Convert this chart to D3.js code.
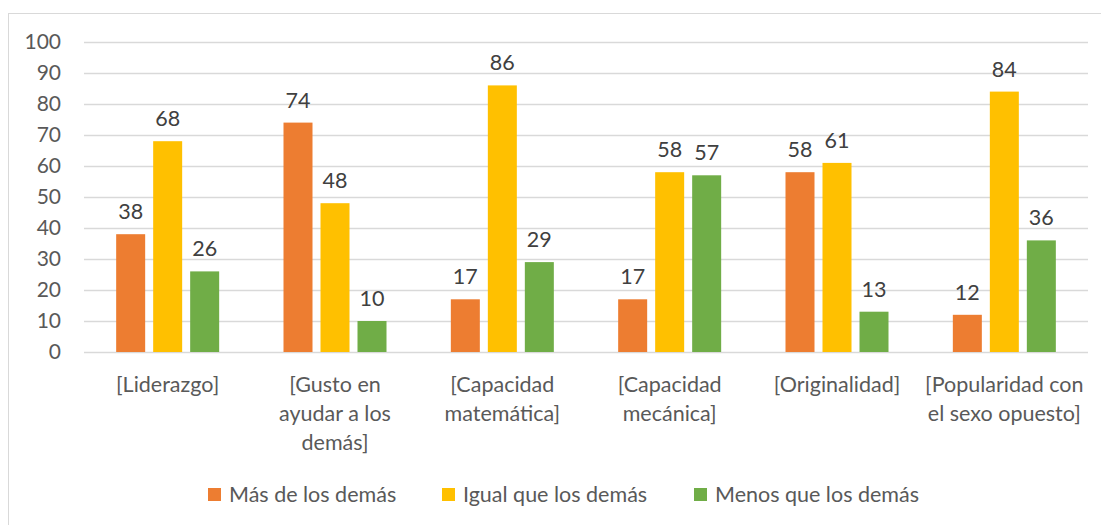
<!DOCTYPE html>
<html>
<head>
<meta charset="utf-8">
<script src="https://cdn.jsdelivr.net/npm/d3@7"></script>
<style>
  body { margin: 0; background: #fff; }
  text { font-family: Lato, "Open Sans", sans-serif; }
</style>
</head>
<body>
<svg id="chart"></svg>
<script>
// data
var categories = ["[Liderazgo]", "[Gusto en\nayudar a los\ndemás]", "[Capacidad\nmatemática]",
                  "[Capacidad\nmecánica]", "[Originalidad]", "[Popularidad con\nel sexo opuesto]"];
var seriesNames = ["Más de los demás", "Igual que los demás", "Menos que los demás"];
var mas   = [38, 74, 17, 17, 58, 12];
var igual = [68, 48, 86, 58, 61, 84];
var menos = [26, 10, 29, 57, 13, 36];
var yTicks = [0, 10, 20, 30, 40, 50, 60, 70, 80, 90, 100];
var colors = ["#ed7d31", "#ffc000", "#70ad47"];

var values = [mas, igual, menos];

const width = 1101;
const height = 525;
const plotL = 84, plotR = 1088, plotT = 42, plotB = 352;
const fontSize = '21.5px';

var svg = d3.select('#chart')
  .attr('width', width)
  .attr('height', height);

// chart frame (runs off the right and bottom edges)
svg.append('rect')
  .attr('x', 8.5).attr('y', 13.5)
  .attr('width', 1100).attr('height', 520)
  .attr('fill', 'none')
  .attr('stroke', '#d9d9d9')
  .attr('stroke-width', 1);

var y = d3.scaleLinear()
  .domain([0, 100])
  .range([plotB, plotT]);

var x0 = d3.scaleBand()
  .domain(categories)
  .range([plotL, plotR]);

var groupW = 103;
var off = (x0.bandwidth() - groupW) / 2;
var x1 = d3.scaleBand()
  .domain(d3.range(seriesNames.length))
  .range([off, off + groupW])
  .paddingInner(8 / 37);

// gridlines + y labels
var yAxis = svg.append('g')
  .attr('transform', `translate(${plotL},0)`)
  .call(d3.axisLeft(y).tickValues(yTicks).tickSize(-(plotR - plotL)).tickPadding(23));
yAxis.select('.domain').remove();
yAxis.selectAll('line').attr('stroke', '#d9d9d9').attr('stroke-width', 1.5);
yAxis.selectAll('text')
  .attr('fill', '#595959')
  .style('font-size', '21px')
  .style('font-family', 'Lato, "Open Sans", sans-serif');

// bars
var groups = svg.selectAll('g.cat')
  .data(categories)
  .enter().append('g')
    .attr('class', 'cat')
    .attr('transform', d => `translate(${x0(d)},0)`);

var bars = groups.selectAll('g.bar')
  .data((d, i) => values.map((s, j) => ({ series: j, value: s[i] })))
  .enter().append('g')
    .attr('class', 'bar');

bars.append('rect')
  .attr('x', d => x1(d.series))
  .attr('y', d => y(d.value))
  .attr('width', x1.bandwidth())
  .attr('height', d => plotB - y(d.value))
  .attr('fill', d => colors[d.series]);

bars.append('text')
  .attr('x', d => x1(d.series) + x1.bandwidth() / 2)
  .attr('y', d => y(d.value) - 15)
  .attr('text-anchor', 'middle')
  .attr('fill', '#404040')
  .style('font-size', fontSize)
  .text(d => d.value);

// category labels
var catLabels = svg.append('g').selectAll('text')
  .data(categories)
  .enter().append('text')
    .attr('x', d => x0(d) + x0.bandwidth() / 2)
    .attr('y', 392)
    .attr('text-anchor', 'middle')
    .attr('fill', '#595959')
    .style('font-size', fontSize);

catLabels.selectAll('tspan')
  .data(d => d.split('\n'))
  .enter().append('tspan')
    .attr('x', function() { return d3.select(this.parentNode).attr('x'); })
    .attr('dy', (d, i) => i === 0 ? 0 : 29)
    .text(d => d);

// legend
var legendX = [208, 442, 694];
var legend = svg.append('g').selectAll('g')
  .data(seriesNames)
  .enter().append('g')
    .attr('transform', (d, i) => `translate(${legendX[i]},488)`);

legend.append('rect')
  .attr('width', 13).attr('height', 13)
  .attr('fill', (d, i) => colors[i]);

legend.append('text')
  .attr('x', 21)
  .attr('y', 14)
  .attr('fill', '#595959')
  .style('font-size', fontSize)
  .text(d => d);
</script>
</body>
</html>
